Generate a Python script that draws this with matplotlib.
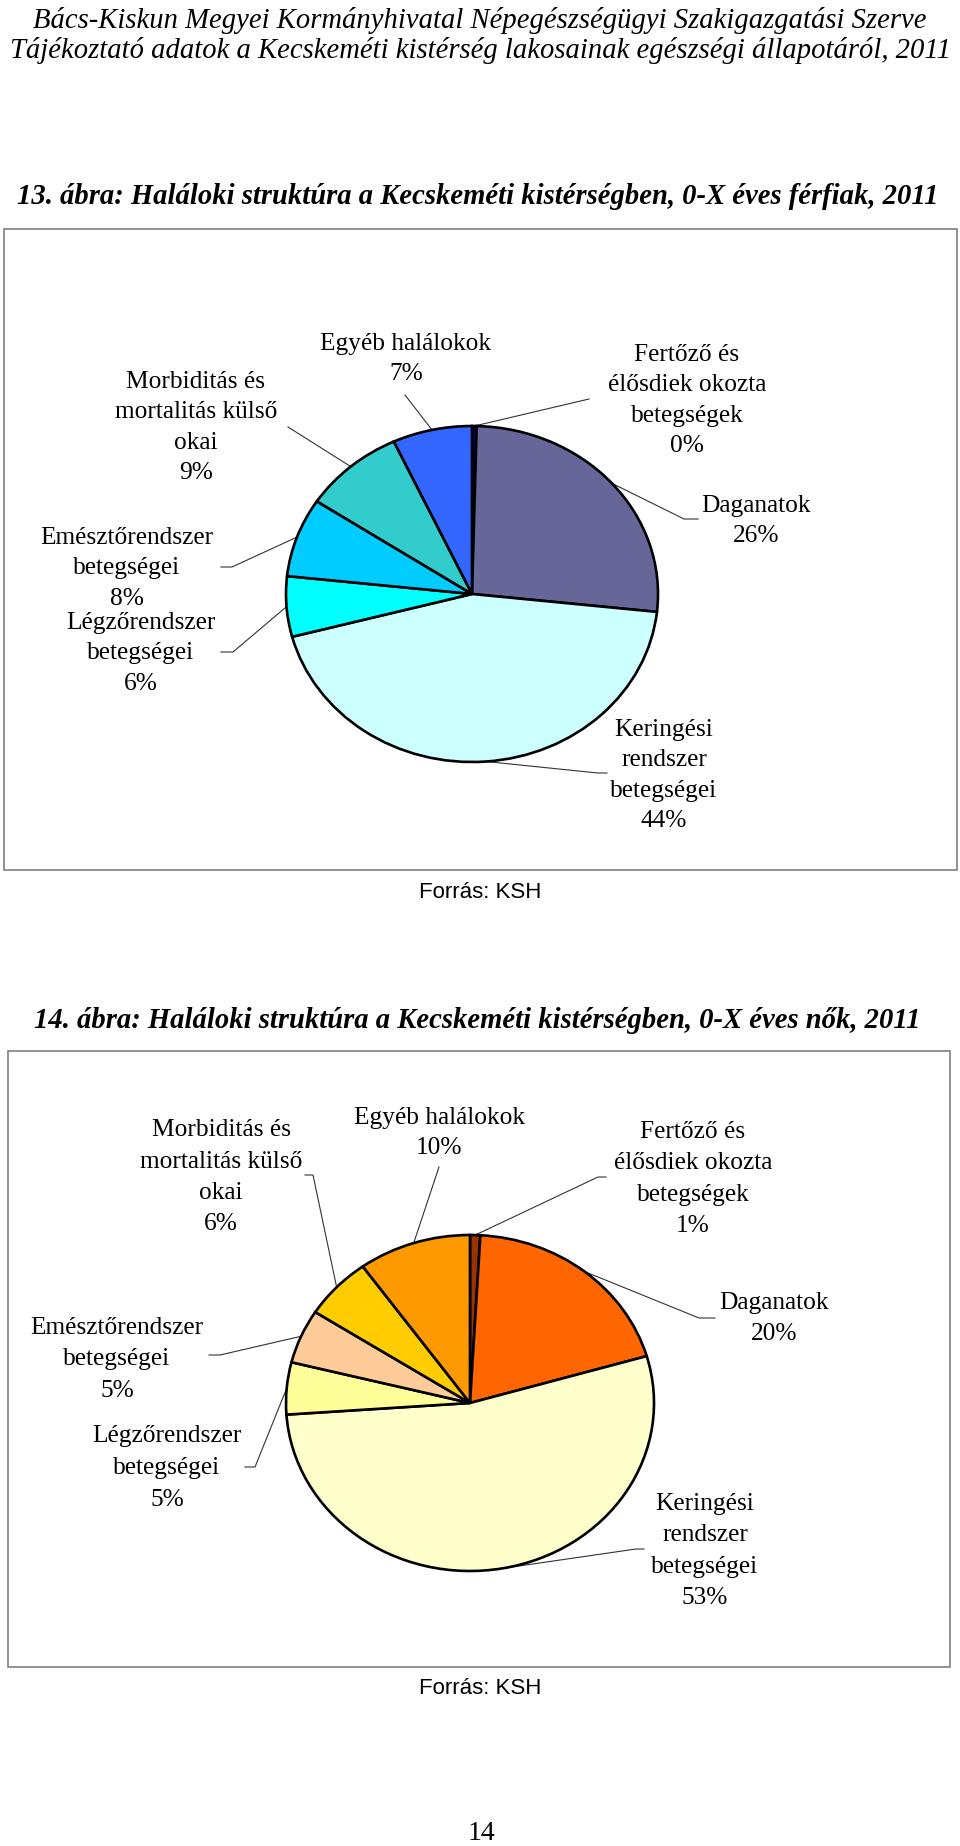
import numpy as np
import matplotlib.pyplot as plt
from matplotlib.patches import Rectangle

W, H = 960, 1846

# slice order: clockwise from 12 o'clock
categories = [
    "Fertőző és\nélősdiek okozta\nbetegségek",
    "Daganatok",
    "Keringési\nrendszer\nbetegségei",
    "Légzőrendszer\nbetegségei",
    "Emésztőrendszer\nbetegségei",
    "Morbiditás és\nmortalitás külső\nokai",
    "Egyéb halálokok",
]
male_share = [0.4, 26.3, 44.2, 5.8, 7.6, 8.8, 6.9]
female_share = [0.9, 19.6, 53.4, 5.0, 5.2, 6.0, 9.9]

male_colors = ["#000066", "#666699", "#CCFFFF", "#00FFFF", "#00CCFF", "#33CCCC", "#3366FF"]
female_colors = ["#993300", "#FF6600", "#FFFFCC", "#FFFF99", "#FFCC99", "#FFCC00", "#FF9900"]

header = ["Bács-Kiskun Megyei Kormányhivatal Népegészségügyi Szakigazgatási Szerve",
          "Tájékoztató adatok a Kecskeméti kistérség lakosainak egészségi állapotáról, 2011"]
title_male = "13. ábra: Haláloki struktúra a Kecskeméti kistérségben, 0-X éves férfiak, 2011"
title_female = "14. ábra: Haláloki struktúra a Kecskeméti kistérségben, 0-X éves nők, 2011"
source = "Forrás: KSH"
page_no = "14"

SERIF = "Liberation Serif"
SANS = "Liberation Sans"
LABEL_SIZE = 18.3

fig = plt.figure(figsize=(W / 100, H / 100), dpi=100)
page = fig.add_axes([0, 0, 1, 1])
page.set_xlim(0, W)
page.set_ylim(H, 0)
page.axis("off")


def draw_pie(values, colors, cx, cy, rx, ry, label_pos, leaders):
    ax = fig.add_axes([(cx - rx) / W, 1 - (cy + ry) / H, 2 * rx / W, 2 * ry / H])
    wedges, _ = ax.pie(values, colors=colors, startangle=90, counterclock=False,
                       wedgeprops=dict(edgecolor="black", linewidth=1.9))
    ax.set_xlim(-1, 1)
    ax.set_ylim(-1, 1)
    ax.set_aspect("auto")
    ax.axis("off")
    for i, w in enumerate(wedges):
        w.set_clip_on(False)
        mid = np.deg2rad((w.theta1 + w.theta2) / 2)
        anchor = (cx + rx * np.cos(mid), cy - ry * np.sin(mid))
        pts = leaders[i] + [anchor]
        page.plot([p[0] for p in pts], [p[1] for p in pts], color="#333333", lw=0.8)
        x, y, pitch = label_pos[i]
        lines = categories[i].split("\n") + [f"{values[i]:.0f}%"]
        for k, line in enumerate(lines):
            page.text(x, y + k * pitch, line, ha="center", va="center",
                      fontsize=LABEL_SIZE, family=SERIF)


# header
page.text(480, 21, header[0], ha="center", va="center", fontsize=20.6, family=SERIF, style="italic")
page.text(480, 50, header[1], ha="center", va="center", fontsize=20.6, family=SERIF, style="italic")

# chart 1
page.text(478, 196, title_male, ha="center", va="center", fontsize=20.6, family=SERIF,
          style="italic", weight="bold")
page.add_patch(Rectangle((4, 229), 953, 641, fill=False, edgecolor="#7f7f7f", lw=1.2))
draw_pie(male_share, male_colors, 472, 594, 186, 168,
         [(687, 355, 30.3), (756, 506, 30.5), (664, 730, 30.3), (141, 623, 30.3),
          (127, 538, 30.3), (196, 382, 30.3), (406, 344, 29.5)],
         [[(589, 399)], [(698, 519), (684, 519)], [(607, 773), (598, 773)],
          [(221, 652), (233, 652)], [(221, 567), (232, 567)], [(288, 427)], [(405, 395)]])
page.text(480, 892, source, ha="center", va="center", fontsize=16, family=SANS)

# chart 2
page.text(477, 1021, title_female, ha="center", va="center", fontsize=20.6, family=SERIF,
          style="italic", weight="bold")
page.add_patch(Rectangle((8, 1051), 942, 616, fill=False, edgecolor="#7f7f7f", lw=1.2))
draw_pie(female_share, female_colors, 470, 1403, 184, 168,
         [(693, 1132, 31.3), (774, 1303, 30.5), (705, 1504, 31.3), (167, 1436, 32),
          (117, 1328, 31.5), (221, 1130, 31.5), (439, 1118, 30)],
         [[(606, 1177), (598, 1177)], [(715, 1318), (699, 1318)], [(644, 1549), (636, 1549)],
          [(245, 1467), (255, 1467)], [(209, 1355), (220, 1355)],
          [(305, 1175), (313, 1175)], [(439, 1167)]])
page.text(480, 1688, source, ha="center", va="center", fontsize=16, family=SANS)

page.text(481, 1834, page_no, ha="center", va="center", fontsize=20, family=SERIF)

fig.savefig("out.png", dpi=100)
